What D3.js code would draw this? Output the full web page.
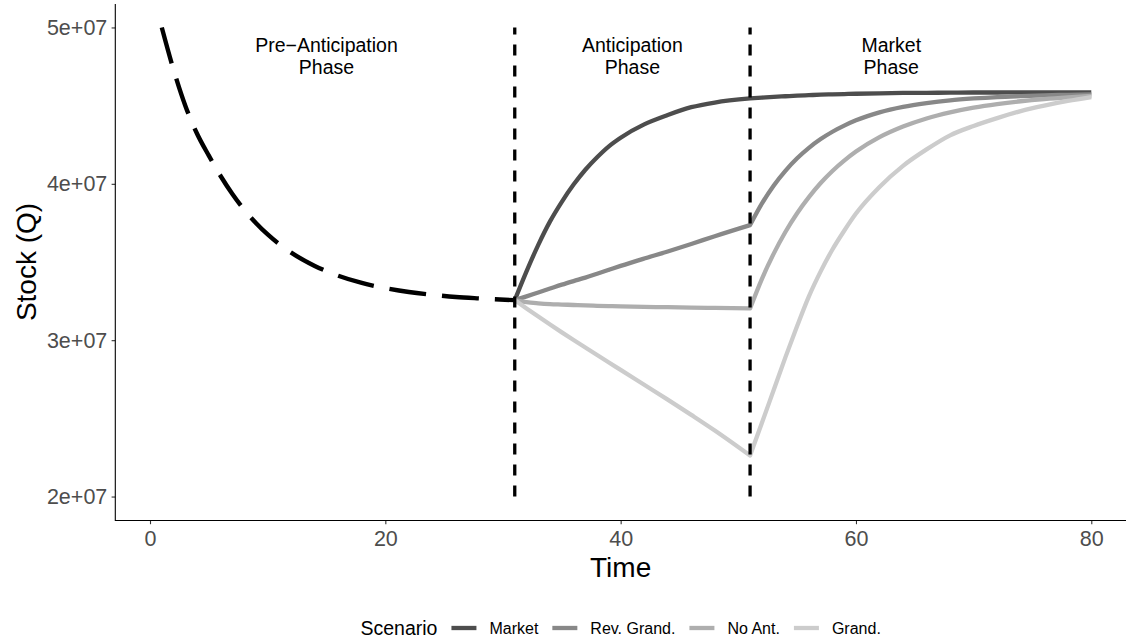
<!DOCTYPE html>
<html>
<head>
<meta charset="utf-8">
<script src="https://cdn.jsdelivr.net/npm/d3@7"></script>
<style>
  body { margin: 0; background: #fff; }
  svg { display: block; font-family: 'Liberation Sans', Arial, sans-serif; }
</style>
</head>
<body>
<div id="container"></div>
<script>
const w = 1133,
  h = 641;

// pre-anticipation stock (dashed curve)
const preTime = [1, 2, 3, 4, 5, 6, 7, 8, 9, 10, 12, 14, 16, 18, 20, 22, 24, 26, 28, 31];
const preStock = [5.0e7, 4.73e7, 4.5e7, 4.32e7, 4.18e7, 4.05e7, 3.935e7, 3.835e7, 3.75e7, 3.676e7,
  3.56e7, 3.475e7, 3.412e7, 3.366e7, 3.333e7, 3.308e7, 3.29e7, 3.276e7, 3.267e7, 3.256e7];

// anticipation phase
const antTime = [31, 32, 33, 34, 35, 36, 37, 38, 39, 40, 42, 44, 46, 48, 51];
const antMarket = [3.256e7, 3.44e7, 3.61e7, 3.76e7, 3.885e7, 3.995e7, 4.09e7, 4.17e7, 4.24e7, 4.295e7, 4.38e7, 4.44e7, 4.49e7, 4.52e7, 4.546e7];
const antRevGrand = [3.256e7, 3.28e7, 3.305e7, 3.33e7, 3.355e7, 3.378e7, 3.4e7, 3.425e7, 3.45e7, 3.475e7, 3.522e7, 3.567e7, 3.615e7, 3.665e7, 3.736e7];
const antNoAnt = [3.256e7, 3.243e7, 3.236e7, 3.231e7, 3.228e7, 3.225e7, 3.222e7, 3.22e7, 3.218e7, 3.216e7, 3.213e7, 3.211e7, 3.208e7, 3.206e7, 3.203e7];
const antGrand = [3.256e7, 3.203e7, 3.151e7, 3.1e7, 3.05e7, 3.001e7, 2.953e7, 2.905e7, 2.857e7, 2.81e7, 2.715e7, 2.62e7, 2.522e7, 2.422e7, 2.262e7];

// market phase
const mktTime = [51, 52, 53, 54, 55, 56, 57, 58, 59, 60, 62, 64, 66, 68, 70, 72, 74, 76, 78, 80];
const mktMarket = [4.546e7, 4.551e7, 4.556e7, 4.56e7, 4.564e7, 4.567e7, 4.57e7, 4.572e7, 4.574e7, 4.576e7,
  4.579e7, 4.581e7, 4.582e7, 4.583e7, 4.584e7, 4.584e7, 4.585e7, 4.585e7, 4.585e7, 4.585e7];
const mktRevGrand = [3.736e7, 3.873e7, 3.988e7, 4.083e7, 4.163e7, 4.23e7, 4.286e7, 4.333e7, 4.372e7, 4.406e7,
  4.457e7, 4.492e7, 4.516e7, 4.534e7, 4.546e7, 4.555e7, 4.561e7, 4.566e7, 4.569e7, 4.572e7];
const mktNoAnt = [3.203e7, 3.391e7, 3.552e7, 3.692e7, 3.812e7, 3.915e7, 4.005e7, 4.082e7, 4.148e7, 4.206e7,
  4.298e7, 4.366e7, 4.418e7, 4.457e7, 4.487e7, 4.51e7, 4.528e7, 4.542e7, 4.553e7, 4.562e7];
const mktGrand = [2.262e7, 2.47e7, 2.68e7, 2.89e7, 3.09e7, 3.28e7, 3.44e7, 3.58e7, 3.7e7, 3.81e7,
  3.98e7, 4.115e7, 4.22e7, 4.31e7, 4.37e7, 4.42e7, 4.465e7, 4.5e7, 4.53e7, 4.555e7];

const scenarios = ['Market', 'Rev. Grand.', 'No Ant.', 'Grand.'];
const scenarioColors = ['#4d4d4d', '#888888', '#aeaeae', '#cccccc'];
const antSeries = [antMarket, antRevGrand, antNoAnt, antGrand];
const mktSeries = [mktMarket, mktRevGrand, mktNoAnt, mktGrand];

const phaseBounds = [31, 51];
const phaseCenters = [15, 41, 63];
const phaseLabels = [['Pre\u2212Anticipation', 'Phase'], ['Anticipation', 'Phase'], ['Market', 'Phase']];

const xTicks = [0, 20, 40, 60, 80];
const yTicks = [2e7, 3e7, 4e7, 5e7];
const yTickLabels = ['2e+07', '3e+07', '4e+07', '5e+07'];

const svg = d3
  .select('#container')
  .append('svg')
  .attr('width', w)
  .attr('height', h);

const x = d3.scaleLinear().domain([-2.95, 82.95]).range([115.3, 1126]);
const y = d3.scaleLinear().domain([1.85e7, 5.15e7]).range([520, 4]);

const line = d3
  .line()
  .x((d) => x(d[0]))
  .y((d) => y(d[1]))
  .curve(d3.curveMonotoneX);

// dashed pre-anticipation curve
svg
  .append('path')
  .attr('d', line(d3.zip(preTime, preStock)))
  .attr('fill', 'none')
  .attr('stroke', '#000')
  .attr('stroke-width', 4.4)
  .attr('stroke-dasharray', '37,16');

// scenario lines: anticipation + market segment joined in one path
scenarios.forEach((s, i) => {
  const p1 = line(d3.zip(antTime, antSeries[i]));
  const p2 = line(d3.zip(mktTime, mktSeries[i])).replace(/^M/, 'L');
  svg
    .append('path')
    .attr('d', p1 + p2)
    .attr('fill', 'none')
    .attr('stroke', scenarioColors[i])
    .attr('stroke-width', 4.3)
    .attr('stroke-linejoin', 'round');
});

// phase boundaries
svg
  .selectAll('line.phase')
  .data(phaseBounds)
  .enter()
  .append('line')
  .attr('class', 'phase')
  .attr('x1', (d) => x(d))
  .attr('x2', (d) => x(d))
  .attr('y1', y(2e7))
  .attr('y2', y(5e7))
  .attr('stroke', '#000')
  .attr('stroke-width', 3.3)
  .attr('stroke-dasharray', '11,10');

// phase labels
phaseCenters.forEach((c, i) => {
  const t = svg
    .append('text')
    .attr('text-anchor', 'middle')
    .attr('font-size', '19.5px')
    .attr('fill', '#000');
  phaseLabels[i].forEach((s, j) => {
    t.append('tspan')
      .attr('x', x(c))
      .attr('y', 51.7 + j * 22)
      .text(s);
  });
});

// axes
const xAxis = d3.axisBottom(x).tickValues(xTicks).tickSizeOuter(0).tickSize(3.7).tickPadding(6.8);
const yAxis = d3
  .axisLeft(y)
  .tickValues(yTicks)
  .tickFormat((d, i) => yTickLabels[i])
  .tickSizeOuter(0)
  .tickSize(3.7)
  .tickPadding(4.3);

const gx = svg.append('g').attr('transform', 'translate(0,520.5)').call(xAxis);
const gy = svg.append('g').attr('transform', 'translate(115.3,0)').call(yAxis);

[gx, gy].forEach((g) => {
  g.select('.domain').remove();
  g.selectAll('.tick line').attr('stroke', '#333').attr('stroke-width', 1.1);
  g.selectAll('.tick text')
    .attr('fill', '#4d4d4d')
    .attr('font-size', '21.5px')
    .attr('font-family', "'Liberation Sans', Arial, sans-serif");
});

// axis lines
svg
  .append('path')
  .attr('d', 'M' + x.range()[0] + ',' + y.range()[1] + 'V520.5H' + x.range()[1])
  .attr('fill', 'none')
  .attr('stroke', '#000')
  .attr('stroke-width', 1.1);

svg
  .append('text')
  .text('Time')
  .attr('x', (115.3 + 1126) / 2)
  .attr('y', 577)
  .attr('text-anchor', 'middle')
  .attr('font-size', '28px');

svg
  .append('text')
  .text('Stock (Q)')
  .attr('transform', 'translate(35.7,' + (4 + 520) / 2 + ') rotate(-90)')
  .attr('text-anchor', 'middle')
  .attr('font-size', '28px');

// legend
const legend = svg.append('g').attr('id', 'legend');
const legendTitle = legend
  .append('text')
  .text('Scenario')
  .attr('y', 634.5)
  .attr('font-size', '19.5px');

let cursor = legendTitle.node().getComputedTextLength() + 14;
scenarios.forEach((s, i) => {
  legend
    .append('line')
    .attr('x1', cursor)
    .attr('x2', cursor + 25)
    .attr('y1', 628)
    .attr('y2', 628)
    .attr('stroke', scenarioColors[i])
    .attr('stroke-width', 4.3);
  const t = legend
    .append('text')
    .text(s)
    .attr('x', cursor + 38)
    .attr('y', 634)
    .attr('font-size', '16px');
  cursor += 38 + t.node().getComputedTextLength() + 14;
});
cursor -= 14;
legend.attr('transform', 'translate(' + ((115.3 + 1126) / 2 - cursor / 2) + ',0)');
</script>
</body>
</html>
